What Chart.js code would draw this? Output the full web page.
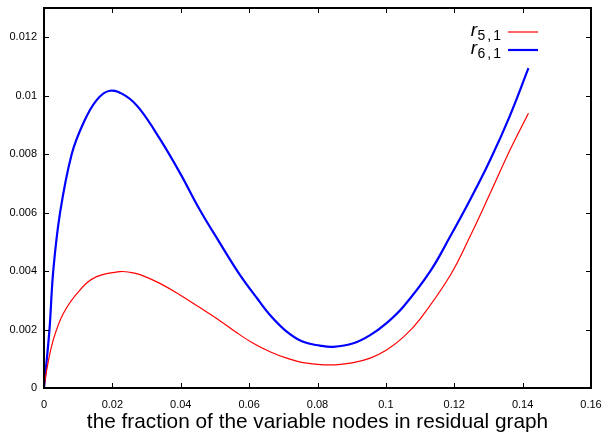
<!DOCTYPE html>
<html>
<head>
<meta charset="utf-8">
<script src="https://cdn.jsdelivr.net/npm/chart.js@4"></script>
<style>
  html, body { margin: 0; padding: 0; background: #fff; }
  #wrap { width: 607px; height: 432px; }
</style>
</head>
<body>
<div id="wrap"><canvas id="residualChart"></canvas></div>
<script>
'use strict';

// r5,1 curve
const redX = [0, 0.0008, 0.0027, 0.0057, 0.0105, 0.0154, 0.0222, 0.0251, 0.0281, 0.0339, 0.0398, 0.0456,
  0.0505, 0.0564, 0.0612, 0.0661, 0.071, 0.0758, 0.0837, 0.0905, 0.0954, 0.1002, 0.1051, 0.11,
  0.1188, 0.1246, 0.1305, 0.1363, 0.1417];
const redY = [0, 0.00062, 0.00164, 0.00256, 0.00335, 0.00381, 0.00398, 0.00396, 0.00388, 0.00358, 0.00318, 0.00275,
  0.00238, 0.00189, 0.00153, 0.00124, 0.00102, 0.00087, 0.00079, 0.00087, 0.00102, 0.0013, 0.00174, 0.00236,
  0.00385, 0.00518, 0.00666, 0.00814, 0.0094];

// r6,1 curve
const blueX = [0, 0.0016, 0.0027, 0.0047, 0.0081, 0.0115, 0.0154, 0.0193, 0.0242, 0.0281, 0.0339,
  0.0398, 0.0456, 0.0515, 0.0573, 0.0627, 0.0661, 0.071, 0.0758, 0.0807, 0.0846, 0.0905,
  0.0954, 0.1002, 0.1051, 0.1129, 0.1188, 0.1246, 0.1305, 0.1363, 0.1417];
const blueY = [0, 0.002, 0.004, 0.006, 0.008, 0.00906, 0.00985, 0.01017, 0.00997, 0.00953, 0.00852,
  0.00735, 0.00609, 0.00495, 0.00387, 0.00301, 0.0025, 0.00193, 0.00158, 0.00145, 0.00141, 0.00153,
  0.00181, 0.00222, 0.00278, 0.00398, 0.00518, 0.00643, 0.0078, 0.00932, 0.01094];

// axes
const xTicks = [0, 0.02, 0.04, 0.06, 0.08, 0.1, 0.12, 0.14, 0.16];
const xTickLabels = ['0', '0.02', '0.04', '0.06', '0.08', '0.1', '0.12', '0.14', '0.16'];
const yTicks = [0, 0.002, 0.004, 0.006, 0.008, 0.01, 0.012];
const yTickLabels = ['0', '0.002', '0.004', '0.006', '0.008', '0.01', '0.012'];
const xTitle = 'the fraction of the variable nodes in residual graph';

// legend
const legendBase = 'r';
const legendSubs = ['5,1', '6,1'];
const seriesColors = ['#ff0000', '#0000ff'];
const seriesWidths = [1.2, 2.2];

function toPoints(xs, ys) {
  return xs.map((x, i) => ({ x: x, y: ys[i] }));
}

// no extra room for half tick labels, the frame is placed by hand
function fixBox(s, size) {
  if (s.isHorizontal()) {
    s.height = size;
  } else {
    s.width = size;
  }
  s.paddingTop = 0;
  s.paddingBottom = 0;
  s.paddingLeft = 0;
  s.paddingRight = 0;
}

// Frame with inward ticks on all four sides, like gnuplot
const framePlugin = {
  id: 'frame',
  afterDatasetsDraw(chart) {
    const ctx = chart.ctx;
    const a = chart.chartArea;
    const xs = chart.scales.x;
    const ys = chart.scales.y;
    const len = 5;
    ctx.save();
    ctx.strokeStyle = '#000';
    ctx.lineWidth = 1;
    ctx.beginPath();
    xTicks.forEach(v => {
      const px = Math.round(xs.getPixelForValue(v)) + 0.5;
      ctx.moveTo(px, a.bottom);
      ctx.lineTo(px, a.bottom - len);
      ctx.moveTo(px, a.top);
      ctx.lineTo(px, a.top + len);
    });
    yTicks.forEach(v => {
      const py = Math.round(ys.getPixelForValue(v)) + 0.5;
      ctx.moveTo(a.left, py);
      ctx.lineTo(a.left + len, py);
      ctx.moveTo(a.right, py);
      ctx.lineTo(a.right - len, py);
    });
    ctx.stroke();
    ctx.lineWidth = 2;
    ctx.strokeRect(a.left, a.top, a.right - a.left, a.bottom - a.top);
    ctx.restore();
  }
};

// Legend with italic r and spaced subscripts
const legendPlugin = {
  id: 'subLegend',
  afterDraw(chart) {
    const ctx = chart.ctx;
    const a = chart.chartArea;
    const textRight = a.right - 90;
    const lineLeft = a.right - 83;
    const lineRight = a.right - 53;
    ctx.save();
    legendSubs.forEach((sub, i) => {
      const y = a.top + 28 + i * 18;
      ctx.fillStyle = '#000';
      ctx.textBaseline = 'alphabetic';
      ctx.textAlign = 'left';
      ctx.font = '14px "Liberation Sans", Arial, sans-serif';
      const gap = 2;
      const chars = sub.split('');
      const subW = chars.reduce((w, c) => w + ctx.measureText(c).width, 0) + gap * (chars.length - 1);
      let cx = textRight - subW;
      chars.forEach(c => {
        ctx.fillText(c, cx, y + 4);
        cx += ctx.measureText(c).width + gap;
      });
      ctx.font = 'italic 19px "Liberation Sans", Arial, sans-serif';
      ctx.textAlign = 'right';
      ctx.fillText(legendBase, textRight - subW - 0.5, y);
      ctx.strokeStyle = seriesColors[i];
      ctx.lineWidth = seriesWidths[i];
      ctx.beginPath();
      ctx.moveTo(lineLeft, y - 4);
      ctx.lineTo(lineRight, y - 4);
      ctx.stroke();
    });
    ctx.restore();
  }
};

const tickFont = { family: '"Liberation Sans", Arial, sans-serif', size: 11 };

new Chart(document.getElementById('residualChart'), {
  type: 'line',
  data: {
    datasets: [
      {
        label: 'r5,1',
        data: toPoints(redX, redY),
        borderColor: seriesColors[0],
        borderWidth: seriesWidths[0],
        pointRadius: 0,
        fill: false,
        tension: 0.4
      },
      {
        label: 'r6,1',
        data: toPoints(blueX, blueY),
        borderColor: seriesColors[1],
        borderWidth: seriesWidths[1],
        pointRadius: 0,
        fill: false,
        tension: 0.4
      }
    ]
  },
  options: {
    responsive: true,
    maintainAspectRatio: false,
    animation: false,
    layout: { padding: { top: 8, right: 16, left: 0, bottom: 0 } },
    plugins: {
      legend: { display: false },
      tooltip: { enabled: false }
    },
    scales: {
      x: {
        type: 'linear',
        min: 0,
        max: 0.16,
        grid: { display: false, drawTicks: false },
        border: { display: false },
        afterBuildTicks: s => { s.ticks = xTicks.map(v => ({ value: v })); },
        afterFit: s => fixBox(s, 44),
        ticks: {
          color: '#000',
          font: tickFont,
          padding: 10,
          maxRotation: 0,
          autoSkip: false,
          callback: (v, i) => xTickLabels[i]
        },
        title: {
          display: true,
          text: xTitle,
          color: '#000',
          font: { family: '"Liberation Sans", Arial, sans-serif', size: 20.8 },
          padding: { top: 0, bottom: -3 }
        }
      },
      y: {
        type: 'linear',
        min: 0,
        max: 0.013,
        grid: { display: false, drawTicks: false },
        border: { display: false },
        afterBuildTicks: s => { s.ticks = yTicks.map(v => ({ value: v })); },
        afterFit: s => fixBox(s, 44),
        ticks: {
          color: '#000',
          font: tickFont,
          padding: 7,
          autoSkip: false,
          callback: (v, i) => yTickLabels[i]
        }
      }
    }
  },
  plugins: [framePlugin, legendPlugin]
});
</script>
</body>
</html>
